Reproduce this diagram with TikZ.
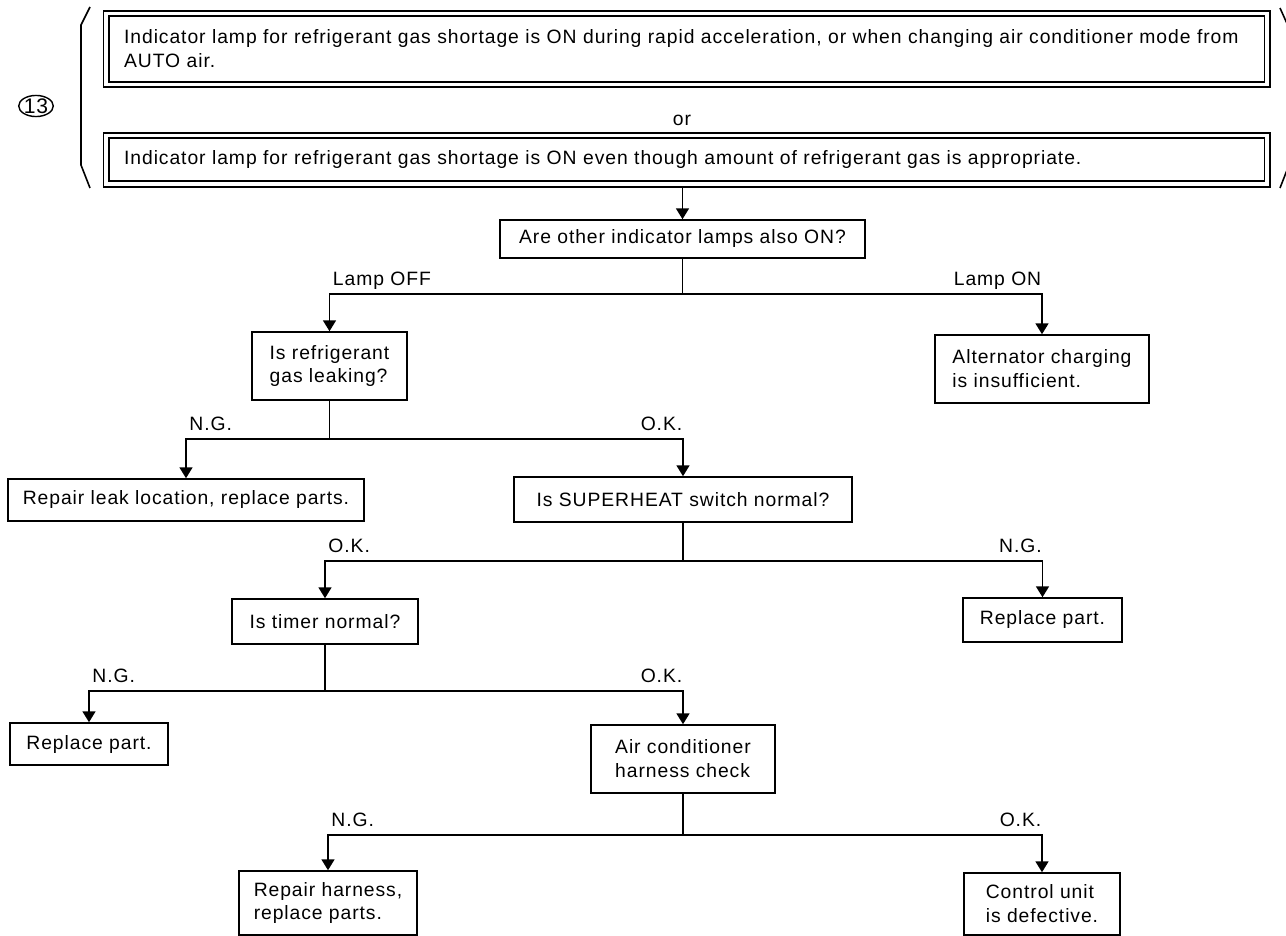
\documentclass[tikz,border=0pt]{standalone}
\usepackage{fontspec}
\setmainfont{Liberation Sans}[LetterSpace=4.8]
\usetikzlibrary{arrows.meta,shapes.geometric}
\tikzstyle{box}=[draw, line width=0.9pt, align=left, inner sep=2pt,
        font=\fontsize{11}{13.6}\selectfont]
\tikzstyle{dbl}=[box, double, double distance=2.2pt, outer sep=1.8pt,
        inner xsep=0.36cm]
\tikzstyle{arr}=[-{Triangle[length=6.2pt,width=7.4pt]}, line width=0.9pt]
\tikzstyle{lbl}=[font=\fontsize{11}{13.6}\selectfont, inner sep=0pt, yshift=4.5pt]

\begin{document}
\begin{tikzpicture}[x=0.02cm, y=-0.02cm]
        \useasboundingbox (0,0) rectangle (1286,936);

        % the two symptoms
        \node[dbl, text width=22.51cm, minimum height=1.42cm] (sym1) at (686.75,49)
            {Indicator lamp for refrigerant gas shortage is ON during rapid acceleration, or when changing air conditioner mode from\\AUTO air.};
        \node[font=\fontsize{11}{13.6}\selectfont] (or) at (682,120) {or};
        \node[dbl, text width=22.51cm, minimum height=0.97cm] (sym2) at (686.75,159.75)
            {Indicator lamp for refrigerant gas shortage is ON even though amount of refrigerant gas is appropriate.};
        \node[draw, ellipse, line width=0.8pt, inner sep=0pt,
            font=\fontsize{12}{12}\selectfont] (num) at (36,106) {13};
        \draw[line width=0.9pt] (90,7) -- (81,25) -- (81,165) -- (90,188);
        \draw[line width=0.9pt] (1280,8) -- (1289,28) -- (1289,165) -- (1280,188);

        % checks and results
        \node[box, align=center, minimum width=7.3cm, minimum height=0.76cm] (ask) at (682.5,239)
            {Are other indicator lamps also ON?};
        \node[box, minimum width=3.1cm, minimum height=1.36cm] (leak) at (329.5,366)
            {Is refrigerant\\gas leaking?};
        \node[box, minimum width=4.28cm, minimum height=1.36cm] (alt) at (1042,369)
            {Alternator charging\\is insufficient.};
        \node[box, minimum width=7.12cm, minimum height=0.84cm] (fix1) at (186,500)
            {Repair leak location, replace parts.};
        \node[box, minimum width=6.76cm, minimum height=0.9cm] (heat) at (683,499.5)
            {Is SUPERHEAT switch normal?};
        \node[box, minimum width=3.72cm, minimum height=0.9cm] (timer) at (325,621.5)
            {Is timer normal?};
        \node[box, minimum width=3.18cm, minimum height=0.88cm] (part1) at (1042.5,620)
            {Replace part.};
        \node[box, minimum width=3.16cm, minimum height=0.84cm] (part2) at (89,744)
            {Replace part.};
        \node[box, minimum width=3.68cm, minimum height=1.36cm] (harn) at (683,759)
            {Air conditioner\\harness check};
        \node[box, minimum width=3.56cm, minimum height=1.28cm] (fix2) at (328,903)
            {Repair harness,\\replace parts.};
        \node[box, minimum width=3.12cm, minimum height=1.24cm] (unit) at (1042,904)
            {Control unit\\is defective.};

        % connectors
        \draw[arr] (ask |- sym2.south) -- (ask);
        \draw[arr] (ask.south) -- ++(0,35) -| node[lbl, anchor=base west, xshift=1.5pt] {Lamp OFF} (leak);
        \draw[arr] (ask.south) -- ++(0,35) -| node[lbl, anchor=base east] {Lamp ON} (alt);
        \draw[arr] (leak.south) -- ++(0,38) -| node[lbl, anchor=base west, xshift=1.5pt] {N.G.} (fix1);
        \draw[arr] (leak.south) -- ++(0,38) -| node[lbl, anchor=base east] {O.K.} (heat);
        \draw[arr] (heat.south) -- ++(0,38) -| node[lbl, anchor=base west, xshift=1.5pt] {O.K.} (timer);
        \draw[arr] (heat.south) -- ++(0,38) -| node[lbl, anchor=base east] {N.G.} (part1);
        \draw[arr] (timer.south) -- ++(0,46) -| node[lbl, anchor=base west, xshift=1.5pt] {N.G.} (part2);
        \draw[arr] (timer.south) -- ++(0,46) -| node[lbl, anchor=base east] {O.K.} (harn);
        \draw[arr] (harn.south) -- ++(0,41) -| node[lbl, anchor=base west, xshift=1.5pt] {N.G.} (fix2);
        \draw[arr] (harn.south) -- ++(0,41) -| node[lbl, anchor=base east] {O.K.} (unit);
\end{tikzpicture}
\end{document}
